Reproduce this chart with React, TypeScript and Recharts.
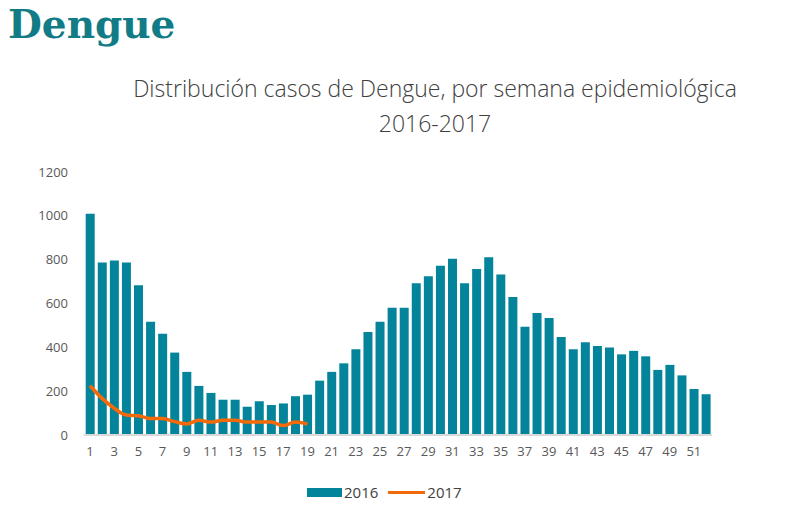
import React from 'react';
import {
  ComposedChart,
  Bar,
  Line,
  XAxis,
  YAxis,
  Legend
} from 'recharts';

// Semanas epidemiológicas y casos
const semanas = Array.from({ length: 52 }, (_, i) => i + 1);

const casos2016 = [
  1010, 787, 796, 787, 683, 517, 462, 376, 288, 224,
  192, 161, 161, 129, 154, 137, 144, 177, 184, 248,
  288, 327, 391, 470, 517, 581, 581, 692, 724, 772,
  804, 692, 757, 811, 732, 630, 494, 557, 534, 447,
  391, 423, 406, 399, 368, 384, 359, 297, 320, 272,
  210, 186
];

const casos2017 = [
  225, 167, 122, 91, 88, 75, 75, 61, 50, 67,
  59, 67, 67, 59, 59, 59, 43, 59, 50
];

const yTicks = [0, 200, 400, 600, 800, 1000, 1200];

const data = semanas.map((semana, i) => ({
  semana,
  y2016: casos2016[i],
  y2017: i < casos2017.length ? casos2017[i] : null
}));

const TEAL = '#03849a';
const ORANGE = '#f56a08';
const FONT = '"Open Sans", "Noto Sans", sans-serif';

const renderLegend = ({ payload }: any) => (
  <div
    style={{
      display: 'flex',
      justifyContent: 'flex-start',
      alignItems: 'center',
      fontFamily: FONT,
      fontSize: 15,
      color: '#404040'
    }}
  >
    {(payload || []).map((entry: any, index: number) => (
      <div key={index} style={{ display: 'flex', alignItems: 'center', marginRight: 10 }}>
        {entry.type === 'rect' ? (
          <div style={{ width: 35, height: 9, backgroundColor: entry.color, marginRight: 2 }} />
        ) : (
          <div style={{ width: 37, height: 3, backgroundColor: entry.color, marginRight: 2 }} />
        )}
        <span>{entry.value}</span>
      </div>
    ))}
  </div>
);

export default function App() {
  return (
    <div
      style={{
        position: 'absolute',
        left: 0,
        top: 0,
        width: 809,
        height: 517,
        background: '#fff',
        overflow: 'hidden'
      }}
    >
      <div
        style={{
          position: 'absolute',
          left: 8,
          top: 1,
          fontFamily: '"DejaVu Serif", serif',
          fontWeight: 700,
          fontSize: 39,
          color: '#117b86'
        }}
      >
        Dengue
      </div>
      <div
        style={{
          position: 'absolute',
          left: 0,
          width: 870,
          top: 71,
          textAlign: 'center',
          fontFamily: FONT,
          fontWeight: 300,
          fontSize: 23,
          lineHeight: '35px',
          color: '#404040'
        }}
      >
        Distribución casos de Dengue, por semana epidemiológica
        <br />
        2016-2017
      </div>
      <div style={{ position: 'absolute', left: 0, top: 0 }}>
        <ComposedChart
          width={809}
          height={517}
          data={data}
          margin={{ top: 172, right: 97, bottom: 52, left: 0 }}
          barCategoryGap="14%"
        >
          <XAxis
            dataKey="semana"
            interval={1}
            tickSize={0}
            tickMargin={12}
            height={30}
            axisLine={{ stroke: '#d9d9d9', strokeWidth: 2 }}
            tick={{ fontSize: 13, fill: '#595959', fontFamily: FONT }}
          />
          <YAxis
            domain={[0, 1200]}
            ticks={yTicks}
            width={84}
            tickSize={0}
            tickMargin={16}
            axisLine={false}
            tick={{ fontSize: 13, fill: '#595959', fontFamily: FONT }}
          />
          <Legend
            layout="horizontal"
            verticalAlign="middle"
            align="center"
            wrapperStyle={{ top: 482, left: 307, width: 300 }}
            content={renderLegend}
          />
          <Bar
            dataKey="y2016"
            name="2016"
            fill={TEAL}
            legendType="rect"
            isAnimationActive={false}
          />
          <Line
            dataKey="y2017"
            name="2017"
            type="monotone"
            stroke={ORANGE}
            strokeWidth={3.5}
            dot={false}
            legendType="line"
            connectNulls={false}
            isAnimationActive={false}
          />
        </ComposedChart>
      </div>
    </div>
  );
}
